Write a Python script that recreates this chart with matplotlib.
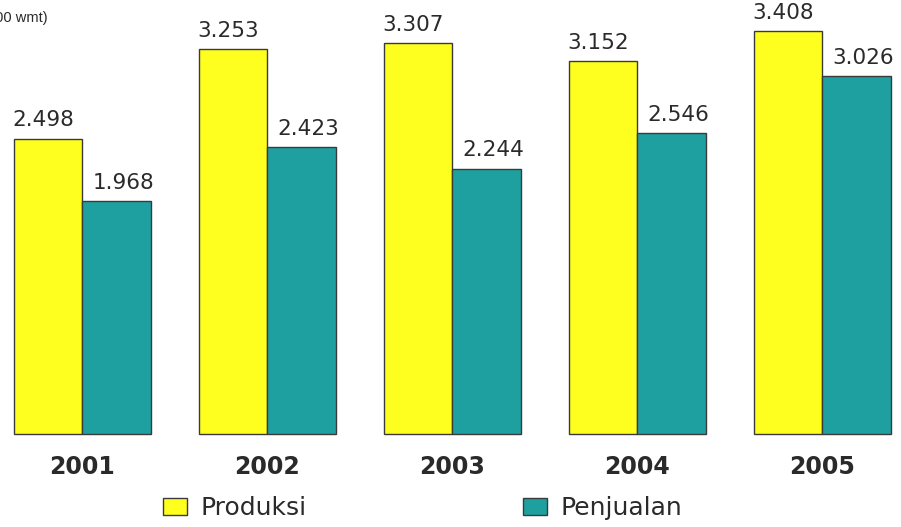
import matplotlib
matplotlib.use("Agg")
import matplotlib.pyplot as plt
import numpy as np
from matplotlib.patches import Rectangle

years = ["2001", "2002", "2003", "2004", "2005"]
produksi = [2.498, 3.253, 3.307, 3.152, 3.408]
penjualan = [1.968, 2.423, 2.244, 2.546, 3.026]
produksi_labels = ["2.498", "3.253", "3.307", "3.152", "3.408"]
penjualan_labels = ["1.968", "2.423", "2.244", "2.546", "3.026"]

YELLOW = "#ffff1f"
TEAL = "#1fa0a0"
EDGE = "#3a3a3a"
TXT = "#2a2a2a"

fig = plt.figure(figsize=(9.01, 5.27), dpi=100)
ax = fig.add_axes([0, 0, 1, 1])

x = np.arange(len(years))
w = 0.37
ax.bar(x - w / 2, produksi, w, color=YELLOW, edgecolor=EDGE, lw=1.0)
ax.bar(x + w / 2, penjualan, w, color=TEAL, edgecolor=EDGE, lw=1.0)

# value labels sit a little off-centre in the original, yellow left, teal right
for xi, v, s in zip(x, produksi, produksi_labels):
    ax.annotate(s, (xi - w / 2, v), xytext=(-3.6, 6), textcoords="offset points",
                ha="center", va="bottom", fontsize=15.5, color=TXT)
for xi, v, s in zip(x, penjualan, penjualan_labels):
    ax.annotate(s, (xi + w / 2, v), xytext=(5, 6), textcoords="offset points",
                ha="center", va="bottom", fontsize=15.5, color=TXT)

for xi, yr in zip(x, years):
    ax.text(xi, -0.28, yr, ha="center", va="center", fontsize=17,
            fontweight="bold", color=TXT)

ax.text(48 / 901, 1 - 18 / 527, "(000 wmt)", transform=ax.transAxes,
        ha="right", va="center", fontsize=10.5, color=TXT,
        family=["Liberation Sans Narrow", "Liberation Sans", "DejaVu Sans"])

ax.set_xlim(-0.446, 4.425)
ax.set_ylim(-0.786, 3.67)
ax.axis("off")

# two single-entry legends so each square can sit where the original has it
series = [("Produksi", YELLOW, 163), ("Penjualan", TEAL, 523)]
legs = []
for name, col, px in series:
    h = Rectangle((0, 0), 1, 1, facecolor=col, edgecolor=EDGE, lw=1.0)
    leg = ax.legend([h], [name], frameon=False, loc="center left",
                    bbox_to_anchor=(px / 901, 1 - 508 / 527),
                    borderpad=0, borderaxespad=0, fontsize=18,
                    handlelength=0.95, handleheight=0.7, handletextpad=0.55)
    for t in leg.get_texts():
        t.set_color(TXT)
    legs.append(leg)
for leg in legs[:-1]:
    ax.add_artist(leg)

fig.savefig("out.png", dpi=100)
